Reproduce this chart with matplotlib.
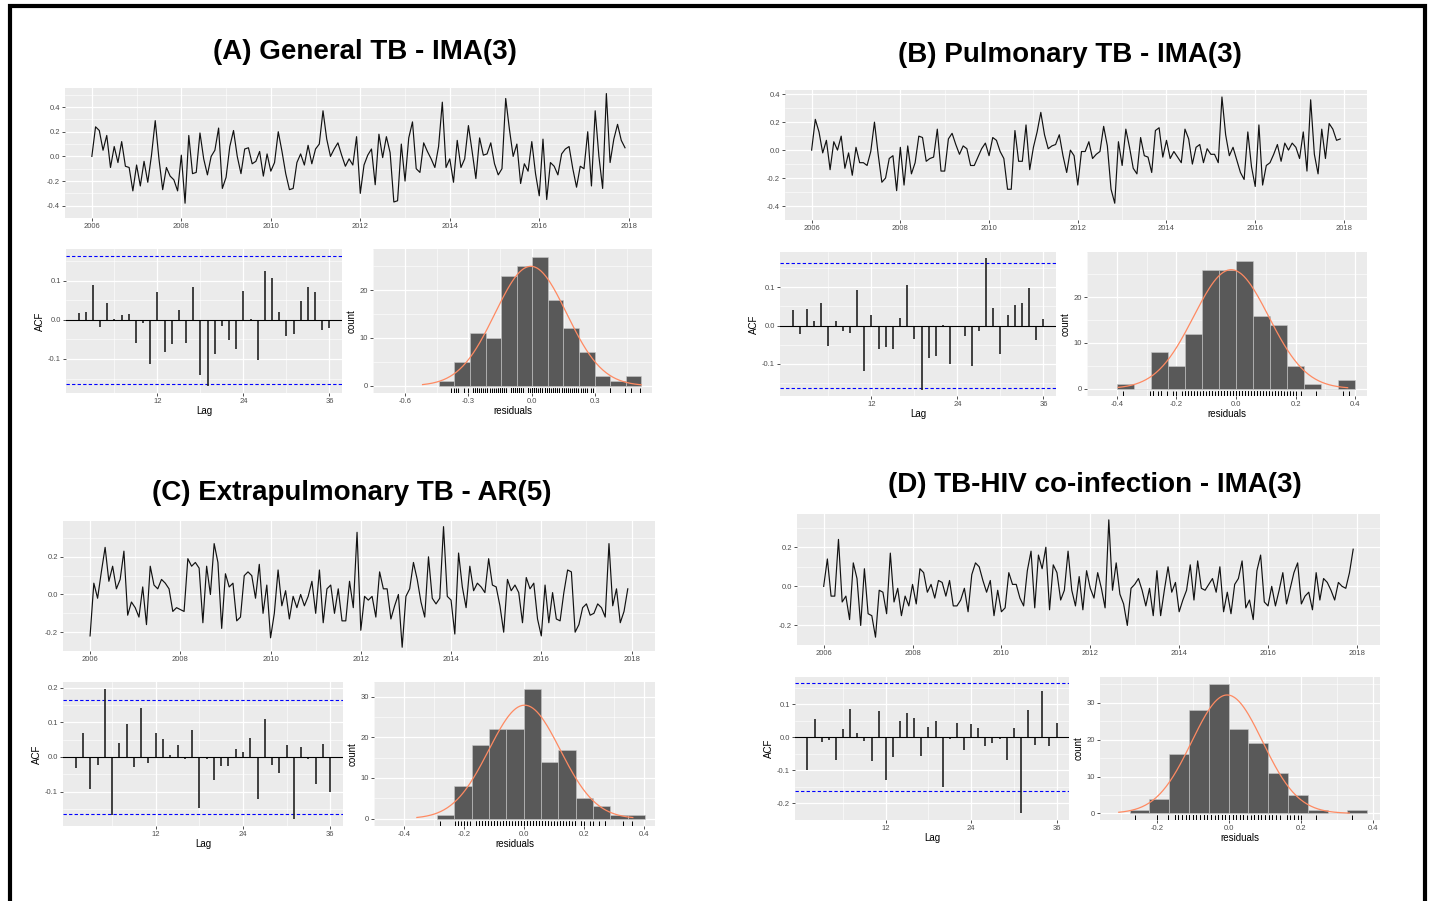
import numpy as np
import matplotlib
matplotlib.use("Agg")
import matplotlib.pyplot as plt
from matplotlib.patches import Rectangle

plt.rcParams['font.family'] = ['Liberation Sans', 'DejaVu Sans']

W, H = 1430, 901

# ---- residual series, monthly 2006-01 .. 2017-12 ----
res_a = [0.00, 0.24, 0.21, 0.05, 0.17, -0.09, 0.08, -0.05, 0.12, -0.08, -0.09, -0.28,
         -0.07, -0.24, -0.04, -0.21, 0.01, 0.29, -0.02, -0.27, -0.09, -0.16, -0.19, -0.28,
         0.01, -0.38, 0.17, -0.14, -0.13, 0.19, -0.02, -0.15, 0.00, 0.05, 0.23, -0.26,
         -0.17, 0.08, 0.21, 0.00, -0.14, 0.06, 0.07, -0.06, -0.04, 0.04, -0.16, 0.02,
         -0.12, -0.05, 0.20, 0.04, -0.14, -0.27, -0.26, -0.05, 0.02, -0.07, 0.09, -0.06,
         0.06, 0.10, 0.37, 0.14, 0.00, 0.06, 0.11, 0.01, -0.08, -0.02, -0.07, 0.16,
         -0.30, -0.07, 0.01, 0.06, -0.23, 0.18, -0.01, 0.16, 0.03, -0.37, -0.36, 0.10,
         -0.20, 0.15, 0.28, -0.10, -0.13, 0.11, 0.04, -0.02, -0.09, 0.08, 0.44, -0.09,
         -0.02, -0.21, 0.13, -0.09, -0.02, 0.25, 0.04, -0.18, 0.15, 0.01, 0.02, 0.11,
         -0.06, -0.15, -0.10, 0.47, 0.22, 0.00, 0.10, -0.22, -0.06, -0.12, 0.12, -0.14,
         -0.32, 0.14, -0.35, -0.05, -0.08, -0.15, 0.02, 0.06, 0.08, -0.10, -0.25, -0.08,
         -0.10, 0.20, -0.24, 0.37, 0.00, -0.26, 0.51, -0.05, 0.14, 0.26, 0.13, 0.07]

res_b = [0.00, 0.22, 0.13, -0.02, 0.07, -0.14, 0.06, 0.00, 0.10, -0.13, -0.02, -0.18,
         0.02, -0.09, -0.09, -0.11, -0.01, 0.20, -0.03, -0.23, -0.20, -0.06, -0.04, -0.29,
         0.02, -0.25, 0.03, -0.17, -0.09, 0.10, 0.09, -0.08, -0.06, -0.05, 0.15, -0.15,
         -0.15, 0.08, 0.12, 0.04, -0.03, 0.03, 0.01, -0.11, -0.11, -0.05, 0.01, 0.05,
         -0.04, 0.09, 0.07, -0.01, -0.06, -0.28, -0.28, 0.14, -0.08, -0.08, 0.18, -0.14,
         0.02, 0.13, 0.27, 0.11, 0.01, 0.03, 0.04, 0.11, -0.04, -0.16, 0.00, -0.04,
         -0.25, -0.01, -0.01, 0.06, -0.06, -0.03, -0.01, 0.17, 0.03, -0.28, -0.38, 0.06,
         -0.11, 0.15, 0.02, -0.13, -0.17, 0.09, -0.04, -0.05, -0.16, 0.14, 0.16, -0.05,
         0.07, -0.06, -0.01, -0.05, -0.09, 0.15, 0.08, -0.10, 0.02, 0.04, -0.09, 0.01,
         -0.03, -0.03, -0.09, 0.38, 0.11, -0.04, 0.02, -0.07, -0.16, -0.21, 0.13, -0.12,
         -0.26, 0.18, -0.25, -0.11, -0.09, -0.03, 0.04, -0.08, 0.05, 0.00, 0.05, 0.02,
         -0.06, 0.13, -0.15, 0.36, -0.03, -0.17, 0.15, -0.06, 0.19, 0.15, 0.07, 0.08]

res_c = [-0.22, 0.06, -0.02, 0.12, 0.25, 0.07, 0.15, 0.03, 0.08, 0.23, -0.11, -0.04,
         -0.07, -0.12, 0.04, -0.16, 0.15, 0.05, 0.03, 0.08, 0.06, 0.03, -0.09, -0.07,
         -0.08, -0.09, 0.19, 0.15, 0.17, 0.14, -0.15, 0.15, 0.00, 0.27, 0.17, -0.18,
         0.11, 0.04, 0.06, -0.14, -0.12, 0.10, 0.12, 0.10, -0.02, 0.16, -0.10, 0.05,
         -0.23, -0.10, 0.13, -0.06, 0.02, -0.13, -0.01, -0.07, 0.00, -0.06, -0.01, 0.07,
         -0.10, 0.13, -0.15, 0.03, 0.05, -0.10, 0.03, -0.14, -0.14, 0.07, -0.07, 0.33,
         -0.19, -0.01, -0.03, -0.01, -0.12, 0.12, 0.03, 0.03, -0.13, -0.06, 0.00, -0.28,
         -0.01, 0.03, 0.17, 0.08, -0.04, -0.12, 0.20, -0.02, -0.05, -0.02, 0.36, -0.01,
         -0.03, -0.21, 0.22, 0.04, -0.07, 0.15, 0.02, 0.06, 0.04, 0.01, 0.19, 0.05,
         0.04, -0.06, -0.20, 0.08, 0.02, 0.05, 0.01, -0.15, 0.09, 0.03, 0.06, -0.13,
         -0.22, 0.05, -0.15, 0.01, -0.13, -0.14, 0.01, 0.13, 0.12, -0.20, -0.16, -0.07,
         -0.05, -0.11, -0.10, -0.05, -0.07, -0.12, 0.27, -0.06, 0.03, -0.15, -0.09, 0.03]

res_d = [0.00, 0.14, -0.05, -0.05, 0.24, -0.08, -0.05, -0.17, 0.12, 0.04, -0.20, 0.09,
         -0.14, -0.15, -0.26, -0.02, -0.03, -0.14, 0.17, -0.08, -0.01, -0.15, -0.05, -0.10,
         0.01, -0.09, 0.09, 0.07, -0.03, 0.01, -0.06, 0.03, 0.02, -0.05, 0.03, -0.10,
         -0.10, -0.07, -0.01, -0.13, 0.06, 0.12, 0.10, 0.03, -0.03, 0.03, -0.15, -0.02,
         -0.13, -0.11, 0.07, 0.01, 0.01, -0.06, -0.10, 0.08, 0.18, -0.11, 0.16, 0.09,
         0.20, -0.12, 0.11, 0.07, -0.07, -0.02, 0.18, -0.02, -0.10, 0.05, -0.12, 0.08,
         -0.01, -0.06, 0.07, -0.01, -0.11, 0.34, -0.02, 0.12, -0.04, -0.09, -0.20, -0.01,
         0.01, 0.04, -0.02, -0.10, -0.01, -0.15, 0.08, -0.15, -0.02, 0.10, -0.03, 0.02,
         -0.13, -0.07, -0.02, 0.11, -0.07, 0.13, -0.01, -0.02, 0.01, 0.04, -0.03, 0.10,
         -0.13, -0.03, -0.14, 0.01, 0.04, 0.13, -0.11, -0.07, -0.17, 0.08, 0.16, -0.08,
         -0.10, 0.00, -0.10, -0.02, 0.07, -0.09, -0.01, 0.07, 0.12, -0.09, -0.05, -0.03,
         -0.12, 0.07, -0.07, 0.04, 0.02, -0.02, -0.07, 0.02, 0.00, -0.01, 0.07, 0.19]

# ---- ACF, lags 1..36 ----
acf_a = [0.017, 0.019, 0.088, -0.018, 0.043, 0.002, 0.013, 0.014, -0.060, -0.008, -0.113, 0.072,
         -0.082, -0.061, 0.026, -0.060, 0.084, -0.142, -0.170, -0.088, -0.017, -0.051, -0.074, 0.074,
         0.003, -0.103, 0.124, 0.107, 0.021, -0.042, -0.035, 0.049, 0.084, 0.072, -0.025, -0.020]
acf_b = [0.042, -0.023, 0.044, 0.011, 0.059, -0.055, 0.011, -0.015, -0.020, 0.094, -0.120, 0.027,
         -0.062, -0.057, -0.061, 0.019, 0.106, -0.035, -0.168, -0.086, -0.080, 0.001, -0.100, -0.005,
         -0.028, -0.105, -0.015, 0.176, 0.047, -0.075, 0.028, 0.055, 0.060, 0.098, -0.038, 0.016]
acf_c = [-0.032, 0.068, -0.092, -0.023, 0.197, -0.166, 0.039, 0.095, -0.028, 0.142, -0.016, 0.070,
         0.051, 0.006, 0.034, -0.005, 0.078, -0.146, -0.006, -0.066, -0.026, -0.026, 0.023, 0.015,
         0.055, -0.122, 0.110, -0.024, -0.046, 0.034, -0.180, 0.030, -0.005, -0.077, 0.036, -0.100]
acf_d = [-0.100, 0.057, -0.015, -0.008, -0.068, 0.026, 0.087, 0.014, -0.011, -0.072, 0.080, -0.128,
         -0.060, 0.051, 0.073, 0.060, -0.055, 0.033, 0.051, -0.150, -0.004, 0.043, -0.039, 0.042,
         0.028, -0.027, -0.017, -0.005, -0.068, 0.030, -0.230, 0.083, -0.022, 0.140, -0.027, 0.043]

# ---- residual histograms ----
hist_start_a, hist_bw_a = -0.439, 0.0735
hist_counts_a = [1, 5, 11, 10, 23, 25, 27, 18, 12, 7, 2, 1, 2]
hist_start_b, hist_bw_b = -0.400, 0.0571
hist_counts_b = [1, 0, 8, 5, 12, 26, 26, 28, 16, 14, 5, 1, 0, 2]
hist_start_c, hist_bw_c = -0.290, 0.0578
hist_counts_c = [1, 8, 18, 22, 22, 32, 14, 17, 5, 3, 1, 1]
hist_start_d, hist_bw_d = -0.275, 0.0548
hist_counts_d = [1, 4, 16, 28, 35, 23, 19, 11, 5, 1, 0, 1]

# normal curve: mean, sd, drawn range
norm_a = (-0.005, 0.169, -0.516, 0.516)
norm_b = (-0.016, 0.126, -0.395, 0.375)
norm_c = (0.002, 0.119, -0.357, 0.363)
norm_d = (-0.005, 0.098, -0.305, 0.333)

titles = ["(A) General TB - IMA(3)", "(B) Pulmonary TB - IMA(3)",
          "(C) Extrapulmonary TB - AR(5)", "(D) TB-HIV co-infection - IMA(3)"]

years = 2006 + np.arange(144) / 12.0

fig = plt.figure(figsize=(W / 100, H / 100), dpi=100)
fig.patches.append(Rectangle((10 / W, -0.01), 1415 / W, 1 - 6 / H + 0.01,
                             transform=fig.transFigure, fill=False,
                             edgecolor='black', linewidth=3.0))


def px_axes(l, t, r, b):
    return fig.add_axes([l / W, 1 - b / H, (r - l) / W, (b - t) / H])


def gg(ax):
    ax.set_facecolor('#EBEBEB')
    for s in ax.spines.values():
        s.set_visible(False)
    ax.grid(which='major', color='white', lw=0.9)
    ax.grid(which='minor', color='white', lw=0.4)
    ax.set_axisbelow(True)
    ax.tick_params(which='major', length=2, width=0.6, color='#333333',
                   labelsize=5.5, labelcolor='#4D4D4D', pad=1.5)
    ax.tick_params(which='minor', length=0)


def draw_ts(rect, res, ylim, yticks):
    ax = px_axes(*rect)
    gg(ax)
    ax.plot(years, res, color='#111111', lw=0.85)
    ax.set_xlim(2005.4, 2018.52)
    ax.set_ylim(*ylim)
    ax.set_xticks(range(2006, 2019, 2))
    ax.set_xticks(range(2007, 2019, 2), minor=True)
    ax.set_yticks(yticks)
    ax.set_yticklabels([f"{v:.1f}" for v in yticks])
    step = yticks[1] - yticks[0]
    ax.set_yticks(np.arange(yticks[0] - step / 2, ylim[1], step), minor=True)


def draw_acf(rect, acf, ylim, yticks):
    ax = px_axes(*rect)
    gg(ax)
    lags = np.arange(1, len(acf) + 1)
    ci = 1.96 / np.sqrt(144)
    ax.axhline(ci, color='#0000FF', ls=(0, (3, 2)), lw=0.8)
    ax.axhline(-ci, color='#0000FF', ls=(0, (3, 2)), lw=0.8)
    ax.vlines(lags, 0, acf, color='#222222', lw=1.2)
    ax.axhline(0, color='black', lw=0.8)
    ax.set_xlim(-0.75, 37.75)
    ax.set_ylim(*ylim)
    ax.set_xticks([12, 24, 36])
    ax.set_xticks([6, 18, 30], minor=True)
    ax.set_yticks(yticks)
    ax.set_yticklabels([f"{v:.1f}" for v in yticks])
    ax.set_yticks(np.arange(yticks[0] - 0.05, ylim[1], 0.1), minor=True)
    ax.set_xlabel("Lag", fontsize=7, labelpad=1)
    ax.set_ylabel("ACF", fontsize=7, labelpad=2)


def draw_hist(rect, res, start, bw, counts, norm, xlim, ylim, xticks, yticks):
    ax = px_axes(*rect)
    gg(ax)
    edges = start + bw * np.arange(len(counts))
    ax.bar(edges, counts, width=bw, align='edge', color='#595959',
           edgecolor='#C8C8C8', linewidth=0.4, zorder=2)
    mu, sd, lo, hi = norm
    xs = np.linspace(lo, hi, 200)
    ys = sum(counts) * bw * np.exp(-0.5 * ((xs - mu) / sd) ** 2) / (sd * np.sqrt(2 * np.pi))
    ax.plot(xs, ys, color='#FF8A62', lw=0.9, zorder=3)
    ax.vlines(res, 0, 0.035, transform=ax.get_xaxis_transform(),
              color='black', lw=0.7, zorder=3)
    ax.set_xlim(*xlim)
    ax.set_ylim(*ylim)
    ax.set_xticks(xticks)
    ax.set_xticklabels([f"{v:.1f}" for v in xticks])
    xs_step = xticks[1] - xticks[0]
    ax.set_xticks(np.arange(xticks[0] - xs_step / 2, xlim[1], xs_step), minor=True)
    ax.set_yticks(yticks)
    ax.set_yticks(np.arange(5, ylim[1], 10), minor=True)
    ax.set_xlabel("residuals", fontsize=7, labelpad=1)
    ax.set_ylabel("count", fontsize=7, labelpad=2)


title_kw = dict(ha='center', va='center', fontsize=20, fontweight='bold')

# (A)
fig.text(365 / W, 1 - 52 / H, titles[0], **title_kw)
draw_ts((65, 88, 652, 218), res_a, (-0.42, 0.555), [-0.4, -0.2, 0.0, 0.2, 0.4])
draw_acf((66, 249, 342, 393), acf_a, (-0.187, 0.181), [-0.1, 0.0, 0.1])
draw_hist((373, 249, 652, 393), res_a, hist_start_a, hist_bw_a, hist_counts_a, norm_a,
          (-0.639, 0.567), (-1.5, 28.6), [-0.6, -0.3, 0.0, 0.3], [0, 10, 20])

# (B)
fig.text(1070 / W, 1 - 55 / H, titles[1], **title_kw)
draw_ts((785, 90, 1367, 220), res_b, (-0.41, 0.43), [-0.4, -0.2, 0.0, 0.2, 0.4])
draw_acf((780, 252, 1056, 396), acf_b, (-0.185, 0.193), [-0.1, 0.0, 0.1])
draw_hist((1087, 252, 1367, 396), res_b, hist_start_b, hist_bw_b, hist_counts_b, norm_b,
          (-0.437, 0.44), (-1.6, 29.9), [-0.4, -0.2, 0.0, 0.2, 0.4], [0, 10, 20])

# (C)
fig.text(352 / W, 1 - 493 / H, titles[2], **title_kw)
draw_ts((63, 521, 655, 651), res_c, (-0.30, 0.39), [-0.2, 0.0, 0.2])
draw_acf((63, 682, 343, 826), acf_c, (-0.199, 0.216), [-0.1, 0.0, 0.1, 0.2])
draw_hist((374, 682, 655, 826), res_c, hist_start_c, hist_bw_c, hist_counts_c, norm_c,
          (-0.445, 0.437), (-1.8, 33.6), [-0.4, -0.2, 0.0, 0.2, 0.4], [0, 10, 20, 30])

# (D)
fig.text(1095 / W, 1 - 485 / H, titles[3], **title_kw)
draw_ts((797, 514, 1380, 645), res_d, (-0.29, 0.37), [-0.2, 0.0, 0.2])
draw_acf((795, 677, 1069, 820), acf_d, (-0.25, 0.183), [-0.2, -0.1, 0.0, 0.1])
draw_hist((1100, 677, 1380, 820), res_d, hist_start_d, hist_bw_d, hist_counts_d, norm_d,
          (-0.357, 0.418), (-1.8, 37.0), [-0.2, 0.0, 0.2, 0.4], [0, 10, 20, 30])

fig.savefig("out.png", dpi=100)
